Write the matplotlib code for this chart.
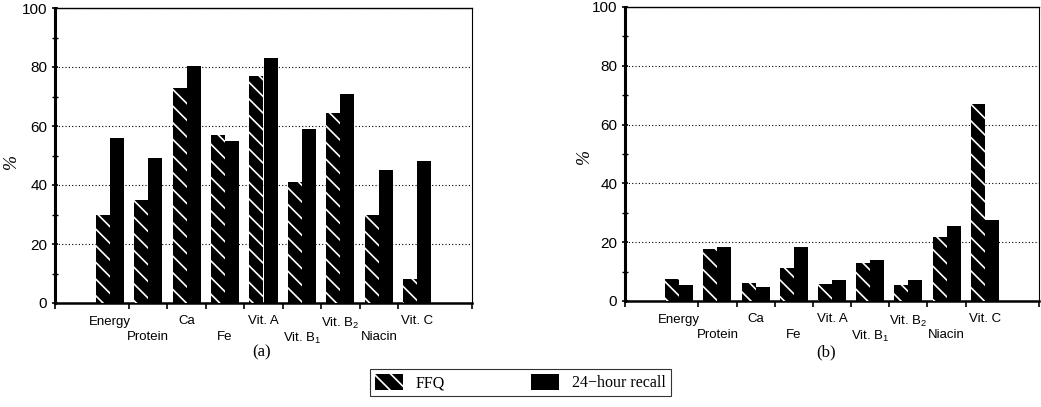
import matplotlib
matplotlib.use("Agg")
import matplotlib.pyplot as plt
from matplotlib.patches import Patch
from matplotlib.ticker import FixedLocator, MultipleLocator

NUTRIENTS = ["Energy", "Protein", "Ca", "Fe", "Vit. A",
             "Vit. B$_1$", "Vit. B$_2$", "Niacin", "Vit. C"]
SERIES = ["FFQ", "24\u2212hour recall"]

# panel (a)
FFQ_A = [30, 35, 73, 57, 77, 41, 64.5, 30, 8]
RECALL_A = [56, 49, 80.5, 55, 83, 59, 71, 45, 48]

# panel (b)
FFQ_B = [7.6, 17.6, 6.1, 11.3, 5.9, 12.9, 5.3, 21.8, 67]
RECALL_B = [5.3, 18.4, 4.7, 18.4, 7, 14, 7.2, 25.5, 27.5]

SANS = ["Liberation Sans", "DejaVu Sans"]
SERIF = ["Liberation Serif", "DejaVu Serif"]

plt.rcParams["font.family"] = SANS
plt.rcParams["mathtext.fontset"] = "custom"
plt.rcParams["mathtext.rm"] = "Liberation Sans"
plt.rcParams["mathtext.it"] = "Liberation Sans"
plt.rcParams["hatch.linewidth"] = 1.2
plt.rcParams["hatch.color"] = "white"

W, H = 1041, 407
fig = plt.figure(figsize=(W / 100, H / 100), dpi=100)


def panel(rect, ffq, recall, caption, cap_x, label_xy):
    ax = fig.add_axes([rect[0] / W, 1 - rect[3] / H,
                       (rect[2] - rect[0]) / W, (rect[3] - rect[1]) / H])
    x = list(range(1, len(NUTRIENTS) + 1))
    bw = 0.365
    ax.bar([v - bw / 2 for v in x], ffq, width=bw, color="black",
           edgecolor="white", linewidth=0, hatch="\\\\", zorder=3)
    ax.bar([v + bw / 2 for v in x], recall, width=bw, color="black",
           linewidth=0, zorder=3)
    ax.set_xlim(-0.42, len(NUTRIENTS) + 1.42)
    ax.set_ylim(0, 100)

    # staggered category labels: every second one drops to a second row
    labels = [n if i % 2 == 0 else "\n" + n for i, n in enumerate(NUTRIENTS)]
    ax.set_xticks(x)
    ax.set_xticklabels(labels, fontsize=9.5, linespacing=1.35)
    ax.tick_params(axis="x", which="major", length=0, pad=9)
    bounds = [-0.42] + [v + 0.5 for v in x[:-1]] + [len(NUTRIENTS) + 1.42]
    ax.xaxis.set_minor_locator(FixedLocator(bounds))
    ax.tick_params(axis="x", which="minor", length=4, width=1.2, direction="out")

    ax.set_yticks([0, 20, 40, 60, 80, 100])
    ax.yaxis.set_minor_locator(MultipleLocator(10))
    ax.tick_params(axis="y", which="major", length=5, width=1.2,
                   direction="inout", labelsize=11, pad=3)
    ax.tick_params(axis="y", which="minor", length=4, width=1,
                   direction="inout")
    ax.grid(axis="y", which="major", linestyle=(0, (1, 2)), color="black",
            linewidth=0.8, zorder=1)
    ax.set_axisbelow(True)

    ax.spines["left"].set_linewidth(2.2)
    ax.spines["bottom"].set_linewidth(1.8)
    ax.spines["top"].set_linewidth(1.0)
    ax.spines["right"].set_linewidth(0.8)

    ax.set_ylabel("%", family=SERIF, style="italic", fontsize=13)
    ax.yaxis.set_label_coords(*label_xy)
    fig.text(cap_x / W, 1 - 352 / H, caption, family=SERIF, fontsize=12,
             ha="center", va="center")
    return ax


panel((55, 8, 472, 303), FFQ_A, RECALL_A, "(a)", 262, (-0.085, 0.48))
panel((625, 7, 1039, 301), FFQ_B, RECALL_B, "(b)", 826, (-0.077, 0.49))

handles = [Patch(facecolor="black", edgecolor="white", linewidth=0, hatch="\\\\"),
           Patch(facecolor="black", linewidth=0)]
leg = fig.legend(handles, SERIES, loc="center", bbox_to_anchor=(0.5, 1 - 382.5 / H),
                 ncol=2, frameon=True, fancybox=False, edgecolor="black",
                 prop={"family": SERIF, "size": 11.5}, handlelength=1.75,
                 handleheight=1.2, columnspacing=5.4, borderpad=0.3,
                 handletextpad=0.8, borderaxespad=0)
leg.get_frame().set_linewidth(0.8)

fig.savefig("out.png", dpi=100)
